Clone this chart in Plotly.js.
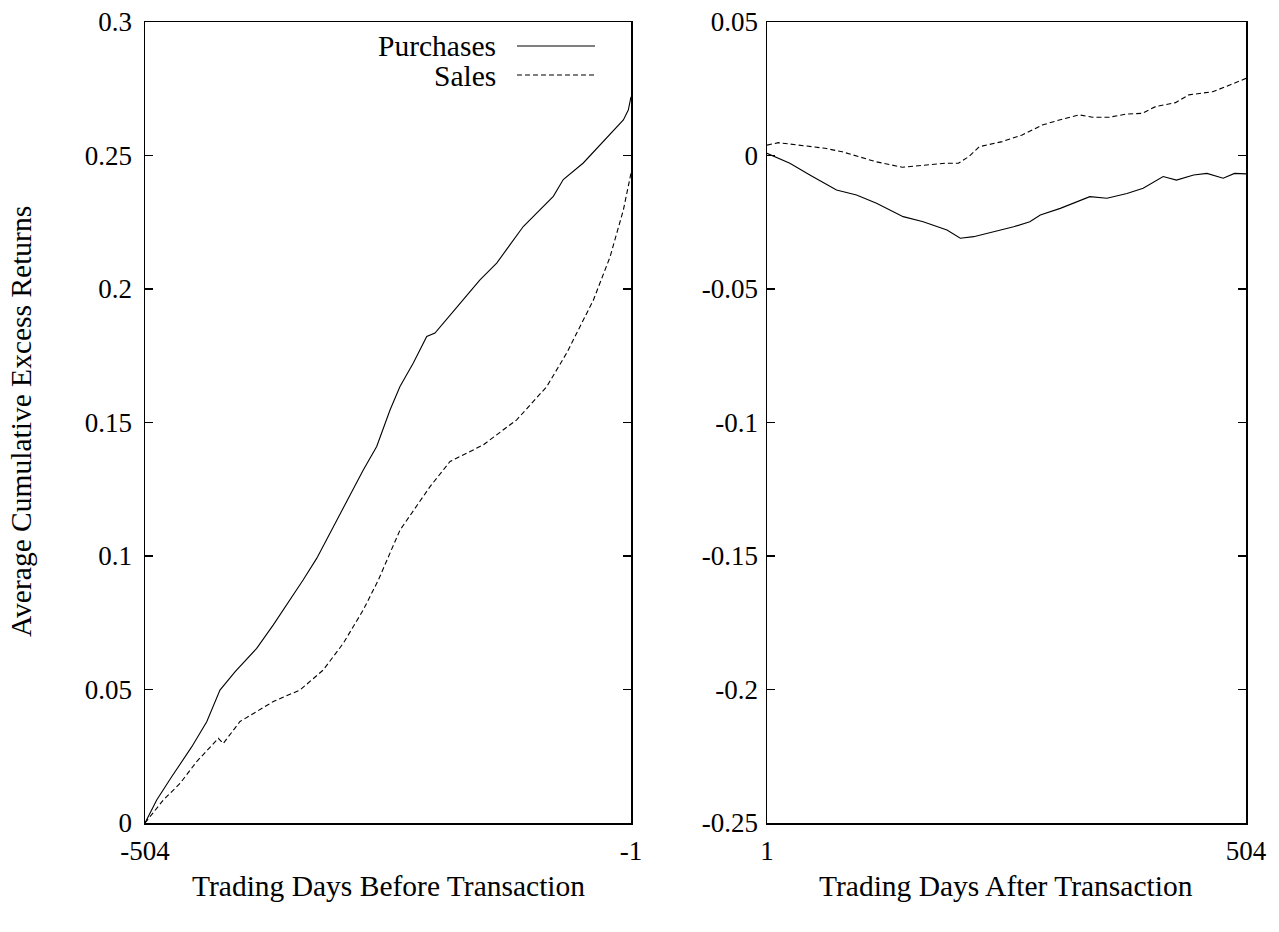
<!DOCTYPE html>
<html>
<head>
<meta charset="utf-8">
<script src="https://cdn.plot.ly/plotly-3.0.1.min.js"></script>
<style>html,body{margin:0;padding:0;background:#fff;}#chart{width:1279px;height:932px;}</style>
</head>
<body>
<div id="chart"></div>
<script>
// ---- Data ----
const beforeDaysPurchases = [-504, -491.9, -476.4, -455.7, -440.1, -426.4, -410.9, -388.4, -371.2, -354.0, -340.2, -326.3, -305.6, -278.1, -264.2, -250.4, -240.1, -226.3, -212.4, -203.9, -174.6, -157.3, -140.0, -112.5, -81.4, -71.1, -50.4, -22.7, -8.9, -3.8, -1];
const beforePurchases = [0, 0.0086, 0.0173, 0.0285, 0.0379, 0.0498, 0.0566, 0.0654, 0.0742, 0.0835, 0.0911, 0.0991, 0.1135, 0.1322, 0.1410, 0.1547, 0.1635, 0.1723, 0.1822, 0.1835, 0.1960, 0.2034, 0.2097, 0.2234, 0.2347, 0.2410, 0.2472, 0.2580, 0.2633, 0.2670, 0.2720];

const beforeDaysSales = [-504, -498.8, -485.1, -467.8, -450.5, -428.1, -423.0, -405.7, -371.2, -343.6, -319.5, -298.8, -278.1, -262.5, -240.1, -209.0, -188.3, -154.0, -119.3, -88.3, -67.6, -40.0, -22.7, -8.9, -1];
const beforeSales = [0, 0.0024, 0.0086, 0.0148, 0.0230, 0.0317, 0.0298, 0.0380, 0.0455, 0.0498, 0.0573, 0.0673, 0.0798, 0.0910, 0.1097, 0.1260, 0.1354, 0.1416, 0.1510, 0.1634, 0.1760, 0.1958, 0.2120, 0.2296, 0.2434];

const afterDaysPurchases = [1, 25, 46, 74, 95, 116, 144, 165, 190, 204, 218, 239, 260, 277, 288, 309, 340, 358, 379, 396, 417, 431, 449, 463, 480, 492, 504];
const afterPurchases = [0.0008, -0.0029, -0.0073, -0.0129, -0.0148, -0.0179, -0.0229, -0.0248, -0.0279, -0.0310, -0.0304, -0.0285, -0.0267, -0.0248, -0.0223, -0.0198, -0.0154, -0.0160, -0.0142, -0.0123, -0.0079, -0.0092, -0.0073, -0.0067, -0.0085, -0.0067, -0.0069];

const afterDaysSales = [1, 13, 34, 62, 80, 97, 115, 143, 167, 188, 202, 213, 224, 248, 269, 290, 308, 329, 343, 360, 378, 395, 409, 430, 444, 469, 483, 504];
const afterSales = [0.0039, 0.0048, 0.0039, 0.0027, 0.0014, -0.0004, -0.0023, -0.0044, -0.0036, -0.0029, -0.0029, -0.0004, 0.0033, 0.0052, 0.0077, 0.0114, 0.0133, 0.0152, 0.0143, 0.0143, 0.0155, 0.0158, 0.0183, 0.0198, 0.0227, 0.0239, 0.0258, 0.0289];

const leftXTicks = [-504, -1];
const leftXTickText = ["-504", "-1"];
const rightXTicks = [1, 504];
const rightXTickText = ["1", "504"];
const leftYTicks = [0, 0.05, 0.1, 0.15, 0.2, 0.25, 0.3];
const leftYTickText = ["0", "0.05", "0.1", "0.15", "0.2", "0.25", "0.3"];
const rightYTicks = [0.05, 0, -0.05, -0.1, -0.15, -0.2, -0.25];
const rightYTickText = ["0.05", "0", "-0.05", "-0.1", "-0.15", "-0.2", "-0.25"];

const seriesNames = ["Purchases", "Sales"];
const xTitles = ["Trading Days Before Transaction", "Trading Days After Transaction"];
const yTitle = "Average Cumulative Excess Returns";

// ---- Chart ----
const FONT = "Liberation Serif, Times New Roman, serif";
const FS = 27;     // tick labels
const FT = 29.5;   // titles and legend
const W = 1279, H = 932;
const px = v => v / W, py = v => 1 - v / H;
const DASH = '5px,3px';

const traces = [
  {x: beforeDaysPurchases, y: beforePurchases, xaxis: 'x', yaxis: 'y', mode: 'lines', name: seriesNames[0], line: {color: '#000', width: 1.1}, showlegend: false},
  {x: beforeDaysSales, y: beforeSales, xaxis: 'x', yaxis: 'y', mode: 'lines', name: seriesNames[1], line: {color: '#000', width: 1.1, dash: DASH}, showlegend: false},
  {x: afterDaysPurchases, y: afterPurchases, xaxis: 'x2', yaxis: 'y2', mode: 'lines', name: seriesNames[0], line: {color: '#000', width: 1.1}, showlegend: false},
  {x: afterDaysSales, y: afterSales, xaxis: 'x2', yaxis: 'y2', mode: 'lines', name: seriesNames[1], line: {color: '#000', width: 1.1, dash: DASH}, showlegend: false}
];

const axisCommon = {
  showgrid: false, zeroline: false, showline: true, linecolor: '#000', linewidth: 1.5,
  mirror: 'ticks', ticks: 'inside', ticklen: 8, tickwidth: 1.3, tickcolor: '#000',
  tickfont: {family: FONT, size: FS, color: '#000'}, fixedrange: true
};

const yDom = [py(823), py(22)];

const layout = {
  width: W, height: H,
  margin: {l: 0, r: 0, t: 0, b: 0},
  paper_bgcolor: '#fff', plot_bgcolor: '#fff',
  font: {family: FONT, size: FS, color: '#000'},
  showlegend: false,
  xaxis: Object.assign({}, axisCommon, {domain: [px(145), px(631)], range: [-504, -1], tickvals: leftXTicks, ticktext: leftXTickText, anchor: 'y', ticklabelstandoff: 3}),
  yaxis: Object.assign({}, axisCommon, {domain: yDom, range: [0, 0.3], tickvals: leftYTicks, ticktext: leftYTickText, anchor: 'x', ticklabelstandoff: 6}),
  xaxis2: Object.assign({}, axisCommon, {domain: [px(767), px(1246)], range: [1, 504], tickvals: rightXTicks, ticktext: rightXTickText, anchor: 'y2', ticklabelstandoff: 3}),
  yaxis2: Object.assign({}, axisCommon, {domain: yDom, range: [-0.25, 0.05], tickvals: rightYTicks, ticktext: rightYTickText, anchor: 'x2', ticklabelstandoff: 2}),
  annotations: [
    {xref: 'paper', yref: 'paper', x: px(388), y: py(886), text: xTitles[0], showarrow: false, xanchor: 'center', yanchor: 'middle', font: {family: FONT, size: FT}},
    {xref: 'paper', yref: 'paper', x: px(1006), y: py(886), text: xTitles[1], showarrow: false, xanchor: 'center', yanchor: 'middle', font: {family: FONT, size: FT}},
    {xref: 'paper', yref: 'paper', x: px(21), y: py(422), text: yTitle, textangle: -90, showarrow: false, xanchor: 'center', yanchor: 'middle', font: {family: FONT, size: FT}},
    {xref: 'paper', yref: 'paper', x: px(498), y: py(46), text: seriesNames[0], showarrow: false, xanchor: 'right', yanchor: 'middle', font: {family: FONT, size: FT}},
    {xref: 'paper', yref: 'paper', x: px(498), y: py(76), text: seriesNames[1], showarrow: false, xanchor: 'right', yanchor: 'middle', font: {family: FONT, size: FT}}
  ],
  shapes: [
    {type: 'line', xref: 'paper', yref: 'paper', x0: px(517), x1: px(595), y0: py(46), y1: py(46), line: {color: '#000', width: 1.1}},
    {type: 'line', xref: 'paper', yref: 'paper', x0: px(517), x1: px(595), y0: py(75), y1: py(75), line: {color: '#000', width: 1.1, dash: DASH}}
  ]
};

Plotly.newPlot('chart', traces, layout, {displayModeBar: false, staticPlot: true});
</script>
</body>
</html>
